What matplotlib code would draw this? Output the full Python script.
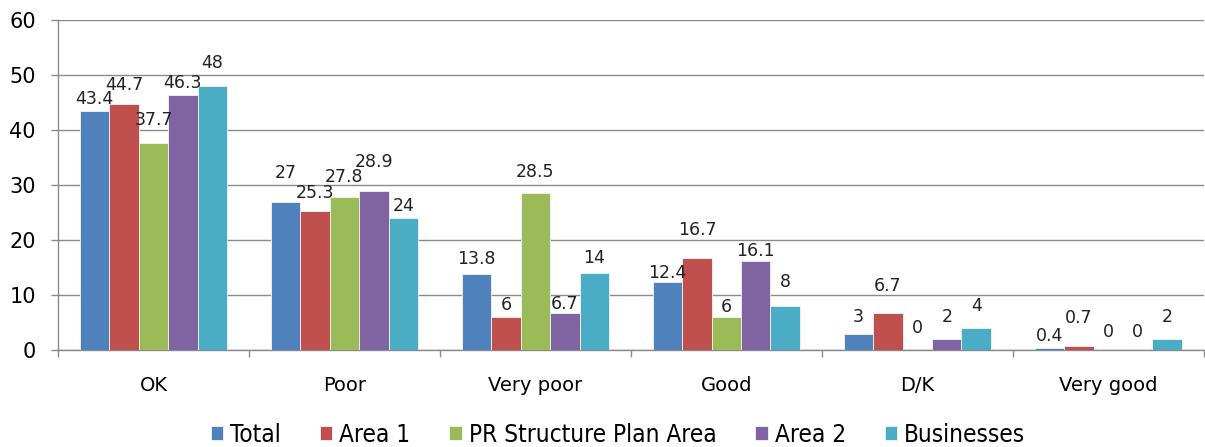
import matplotlib
matplotlib.use("Agg")
import matplotlib.pyplot as plt
import numpy as np
from matplotlib.ticker import FixedLocator
from matplotlib.font_manager import FontProperties

categories = ["OK", "Poor", "Very poor", "Good", "D/K", "Very good"]
series_names = ["Total", "Area 1", "PR Structure Plan Area", "Area 2", "Businesses"]
total = [43.4, 27, 13.8, 12.4, 3, 0.4]
area1 = [44.7, 25.3, 6, 16.7, 6.7, 0.7]
pr_plan = [37.7, 27.8, 28.5, 6, 0, 0]
area2 = [46.3, 28.9, 6.7, 16.1, 2, 0]
businesses = [48, 24, 14, 8, 4, 2]
yticks = [0, 10, 20, 30, 40, 50, 60]

# extra upward nudge (pixels) of data labels, per series, per category (styling)
label_nudge = [
    [0, 17, 3, -3, 5, 0],
    [7, 6, 0, 16, 15, 16],
    [11, 8, 9, -2, 10, 6],
    [0, 17, -3, -2, 10, 6],
    [11, 0, 3, 12, 10, 10],
]

colors = ["#4F81BD", "#C0504D", "#9BBB59", "#8064A2", "#4BACC6"]
all_series = [total, area1, pr_plan, area2, businesses]

fig = plt.figure(figsize=(12.05, 4.47), dpi=100)
ax = fig.add_axes([58/1205, 97/447, 1 - 58/1205 - 0.001, (350-20)/447])

x = np.arange(len(categories))
bw = 0.154
for i, (vals, c, name) in enumerate(zip(all_series, colors, series_names)):
    pos = x + (i - 2) * bw
    ax.bar(pos, vals, bw, color=c, edgecolor="#f4f4f4", linewidth=0.6, label=name, zorder=3)
    for j, (p, v) in enumerate(zip(pos, vals)):
        ax.annotate(f"{v:g}", (p, v), xytext=(0, 12 + label_nudge[i][j]), textcoords="offset pixels",
                    ha="center", va="center", fontsize=12.5, color="#222222", zorder=4)

ax.set_xlim(-0.5, len(categories) - 0.5)
ax.set_ylim(0, 60)
ax.set_yticks(yticks)
ax.yaxis.grid(True, color="#8a8a8a", linewidth=1.0, zorder=0)
ax.set_axisbelow(True)
ax.set_xticks(x)
ax.set_xticklabels(categories, fontsize=14)
ax.tick_params(axis="x", length=0, pad=19)
ax.xaxis.set_minor_locator(FixedLocator(np.arange(-0.5, len(categories) + 0.5, 1.0)))
ax.tick_params(axis="x", which="minor", length=5, color="#8a8a8a", width=1)
ax.tick_params(axis="y", labelsize=15, length=5, color="#8a8a8a", width=1, pad=11)
for s in ["top", "right"]:
    ax.spines[s].set_visible(False)
for s in ["left", "bottom"]:
    ax.spines[s].set_color("#8a8a8a")
    ax.spines[s].set_linewidth(1.0)

legend_font = FontProperties(family="DejaVu Sans", stretch="condensed", size=17.5)
leg = fig.legend(loc="center", bbox_to_anchor=(0.513, 12/447), ncol=5, frameon=False,
                 handlelength=0.5, handleheight=0.5, handletextpad=0.3, columnspacing=1.6,
                 borderpad=0, prop=legend_font)

fig.savefig("out.png", dpi=100)
